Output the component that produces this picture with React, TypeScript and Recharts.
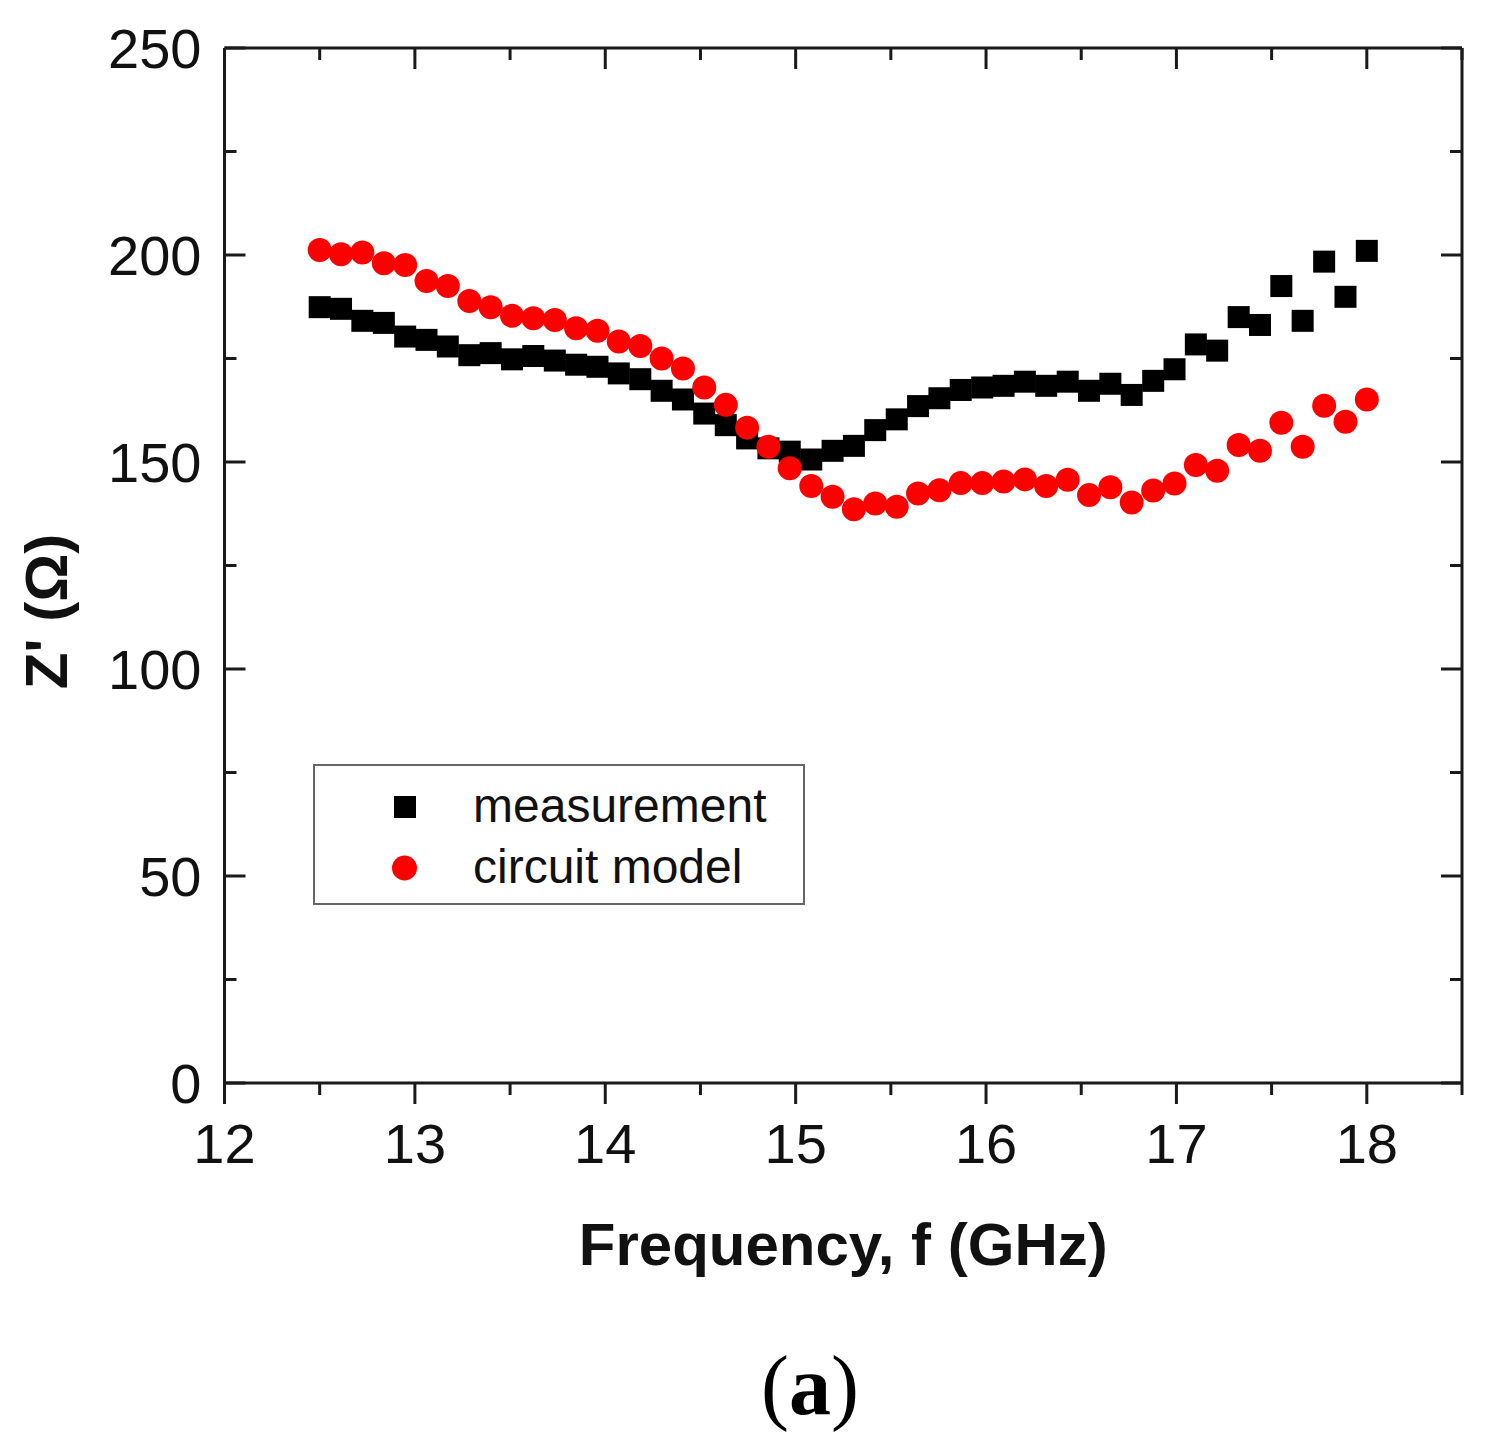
import { ScatterChart, Scatter, XAxis, YAxis, Legend } from 'recharts';

// frequency points (GHz): 50 points from 12.5 to 18
const freqGHz = [
  12.5, 12.612, 12.724, 12.837, 12.949, 13.061, 13.173, 13.286, 13.398, 13.51,
  13.622, 13.735, 13.847, 13.959, 14.071, 14.184, 14.296, 14.408, 14.52, 14.633,
  14.745, 14.857, 14.969, 15.082, 15.194, 15.306, 15.418, 15.531, 15.643, 15.755,
  15.867, 15.98, 16.092, 16.204, 16.316, 16.429, 16.541, 16.653, 16.765, 16.878,
  16.99, 17.102, 17.214, 17.327, 17.439, 17.551, 17.663, 17.776, 17.888, 18.0,
];

const measurementOhm = [
  187.4, 187.0, 184.1, 183.6, 180.3, 179.5, 177.9, 175.8, 176.3, 174.8,
  175.6, 174.5, 173.5, 173.0, 171.4, 170.0, 167.2, 165.1, 161.7, 158.9,
  155.7, 153.3, 152.5, 150.6, 152.7, 153.9, 157.7, 160.3, 163.5, 165.4,
  167.4, 168.0, 168.4, 169.4, 168.4, 169.4, 167.2, 168.9, 166.2, 169.6,
  172.4, 178.4, 176.9, 185.0, 183.1, 192.5, 184.1, 198.4, 189.9, 201.0,
];

const circuitModelOhm = [
  201.2, 200.2, 200.6, 198.0, 197.6, 193.7, 192.5, 188.9, 187.4, 185.3,
  184.7, 184.3, 182.3, 181.7, 179.1, 178.0, 175.0, 172.6, 168.0, 163.8,
  158.3, 153.7, 148.5, 144.2, 141.6, 138.6, 140.0, 139.2, 142.4, 143.2,
  144.9, 144.9, 145.3, 145.8, 144.2, 145.7, 142.0, 143.9, 140.2, 143.1,
  144.8, 149.3, 147.9, 154.1, 152.7, 159.5, 153.7, 163.6, 159.7, 165.1,
];

const seriesNames = ['measurement', 'circuit model'];
const xTicks = [12, 12.5, 13, 13.5, 14, 14.5, 15, 15.5, 16, 16.5, 17, 17.5, 18, 18.5];
const yTicks = [0, 25, 50, 75, 100, 125, 150, 175, 200, 225, 250];

const measurementData = freqGHz.map((f, i) => ({ f, z: measurementOhm[i] }));
const circuitData = freqGHz.map((f, i) => ({ f, z: circuitModelOhm[i] }));

const AXIS = '#1a1a1a';
const FONT = '"Liberation Sans", Arial, Helvetica, sans-serif';
const MAJOR = 21;
const MINOR = 12;

const isMajorX = (v: number) => Number.isInteger(v);
const isMajorY = (v: number) => v % 50 === 0;

const BottomTick = (props: any) => {
  const { x, y, payload } = props;
  const major = isMajorX(payload.value);
  return (
    <g>
      <line x1={x} y1={y} x2={x} y2={y + (major ? MAJOR : MINOR)} stroke={AXIS} strokeWidth={3} />
      {major && payload.value <= 18 && (
        <text x={x} y={y + 80} textAnchor="middle" fontSize={56} fill="#111" fontFamily={FONT}>
          {payload.value}
        </text>
      )}
    </g>
  );
};

const TopTick = (props: any) => {
  const { x, y, payload } = props;
  const len = isMajorX(payload.value) ? MAJOR : MINOR;
  return <line x1={x} y1={y} x2={x} y2={y + len} stroke={AXIS} strokeWidth={3} />;
};

const LeftTick = (props: any) => {
  const { x, y, payload } = props;
  const major = isMajorY(payload.value);
  return (
    <g>
      <line x1={x} y1={y} x2={x + (major ? MAJOR : MINOR)} y2={y} stroke={AXIS} strokeWidth={3} />
      {major && (
        <text x={x - 23} y={y + 20} textAnchor="end" fontSize={56} fill="#111" fontFamily={FONT}>
          {payload.value}
        </text>
      )}
    </g>
  );
};

const RightTick = (props: any) => {
  const { x, y, payload } = props;
  const len = isMajorY(payload.value) ? MAJOR : MINOR;
  return <line x1={x} y1={y} x2={x - len} y2={y} stroke={AXIS} strokeWidth={3} />;
};

const squareShape = (p: any) => (
  <rect x={p.cx - 11} y={p.cy - 11} width={22} height={22} fill="#000000" />
);
const circleShape = (p: any) => <circle cx={p.cx} cy={p.cy} r={12} fill="#ff0000" />;

const renderLegend = (props: any) => {
  const items = (props.payload ?? [])
    .filter((item: any) => seriesNames.includes(item.value))
    .sort((a: any, b: any) => seriesNames.indexOf(a.value) - seriesNames.indexOf(b.value));
  return (
    <svg width={492} height={141} style={{ display: 'block' }}>
      <rect x={1} y={1} width={490} height={139} fill="#ffffff" stroke="#666666" strokeWidth={2} />
      {items.map((item: any, i: number) => {
        const cy = 43 + i * 61;
        return (
          <g key={item.value}>
            {item.type === 'square' ? (
              <rect x={81} y={cy - 11} width={22} height={22} fill={item.color} />
            ) : (
              <circle cx={91.5} cy={cy} r={12.5} fill={item.color} />
            )}
            <text x={160} y={cy + 15} fontSize={48} fill="#111" fontFamily={FONT}>
              {item.value}
            </text>
          </g>
        );
      })}
    </svg>
  );
};

export default function App() {
  return (
    <div
      style={{
        position: 'absolute',
        left: 0,
        top: 0,
        width: 1487,
        height: 1449,
        background: '#ffffff',
        fontFamily: FONT,
      }}
    >
      <ScatterChart width={1487} height={1449} margin={{ top: 47, right: 24, bottom: 166, left: 24.5 }}>
        <XAxis
          xAxisId="bottom"
          type="number"
          dataKey="f"
          domain={[12, 18.5]}
          ticks={xTicks}
          allowDataOverflow
          height={200}
          tickSize={0}
          tickMargin={0}
          tickLine={false}
          tick={<BottomTick />}
          axisLine={{ stroke: AXIS, strokeWidth: 3 }}
          label={{
            value: 'Frequency, f (GHz)',
            position: 'insideTop',
            offset: 139,
            fontSize: 60,
            fontWeight: 'bold',
            fill: '#111',
          }}
        />
        <XAxis
          xAxisId="top"
          orientation="top"
          type="number"
          dataKey="f"
          domain={[12, 18.5]}
          ticks={xTicks}
          allowDataOverflow
          height={1}
          tickSize={0}
          tickMargin={0}
          tickLine={false}
          tick={<TopTick />}
          axisLine={{ stroke: AXIS, strokeWidth: 3 }}
        />
        <YAxis
          yAxisId="left"
          type="number"
          dataKey="z"
          domain={[0, 250]}
          ticks={yTicks}
          allowDataOverflow
          width={200}
          tickSize={0}
          tickMargin={0}
          tickLine={false}
          tick={<LeftTick />}
          axisLine={{ stroke: AXIS, strokeWidth: 3 }}
          label={{
            value: "Z' (Ω)",
            angle: -90,
            position: 'center',
            dx: -78.5,
            dy: 46,
            fontSize: 60,
            fontWeight: 'bold',
            fill: '#111',
          }}
        />
        <YAxis
          yAxisId="right"
          orientation="right"
          type="number"
          dataKey="z"
          domain={[0, 250]}
          ticks={yTicks}
          allowDataOverflow
          width={1}
          tickSize={0}
          tickMargin={0}
          tickLine={false}
          tick={<RightTick />}
          axisLine={{ stroke: AXIS, strokeWidth: 3 }}
        />

        <Legend
          layout="horizontal"
          verticalAlign="middle"
          align="center"
          wrapperStyle={{ left: 313, top: 764, width: 492, height: 141 }}
          content={renderLegend}
        />

        <Scatter
          name="measurement"
          data={measurementData}
          xAxisId="bottom"
          yAxisId="left"
          fill="#000000"
          legendType="square"
          shape={squareShape}
          isAnimationActive={false}
        />
        <Scatter
          name="circuit model"
          data={circuitData}
          xAxisId="bottom"
          yAxisId="left"
          fill="#ff0000"
          legendType="circle"
          shape={circleShape}
          isAnimationActive={false}
        />
        {/* invisible series binding the top/right frame axes so they get drawn */}
        <Scatter
          data={measurementData}
          xAxisId="top"
          yAxisId="right"
          legendType="none"
          fill="none"
          shape={() => <g />}
          isAnimationActive={false}
        />
      </ScatterChart>

      <svg
        width={1487}
        height={1449}
        style={{ position: 'absolute', left: 0, top: 0, pointerEvents: 'none' }}
      >
        <text x={810} y={1414} textAnchor="middle" fontSize={84} fill="#000" fontFamily='"Liberation Serif", "Times New Roman", serif'>
          (<tspan fontWeight="bold">a</tspan>)
        </text>
      </svg>
    </div>
  );
}
